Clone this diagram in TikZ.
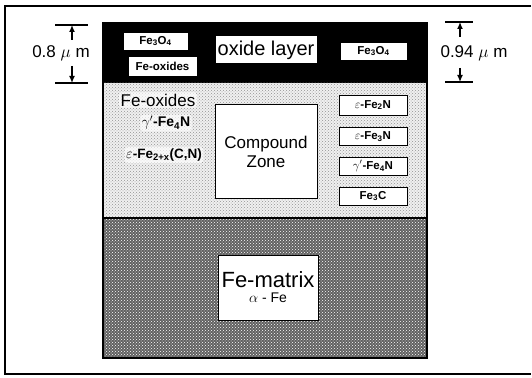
\documentclass[tikz,border=0pt]{standalone}
\usepackage{fontspec}
\setmainfont{Liberation Sans}
\usepackage{tikz}
\usetikzlibrary{patterns, arrows.meta, positioning}

\newcommand{\fsz}[1]{\fontsize{#1}{#1}\selectfont}

\begin{document}
\begin{tikzpicture}[x=1pt, y=-1pt, >={Latex[length=7pt, width=6pt]},
    phase/.style={draw=black, fill=white, line width=0.9pt, inner sep=0pt,
      font=\fsz{11.5}\bfseries},
    plain/.style={fill=white, fill opacity=0.65, text opacity=1,
      inner sep=1.5pt, rounded corners=3pt},
    bigbox/.style={draw=black, fill=white, line width=1pt, inner sep=0pt, align=center},
    dimline/.style={line width=1.3pt}]
    \useasboundingbox (0,0) rectangle (532,377);

    % 1. Khung ngoài
    \draw[line width=1.5pt] (531,6) -- (5,6) -- (5,374) -- (531,374);

    % 2. Các lớp: oxide, compound zone, Fe-matrix
    \fill[black] (103,23) rectangle (427,83);
    \fill[gray!12] (103,83) rectangle (427,218);
    \fill[pattern=crosshatch dots, pattern color=gray!85] (103,83) rectangle (427,218);
    \fill[black!62] (103,218) rectangle (427,358);
    \fill[pattern=crosshatch dots, pattern color=white] (103,218) rectangle (427,358);
    \draw[line width=1.5pt] (103,23) rectangle (427,358);
    \draw[line width=1.2pt] (103,218) -- (427,218);

    % 3. Lớp oxide
    \node[phase, minimum width=65, minimum height=18] (fetopL) at (155.5,41)
      {Fe\textsubscript{3}O\textsubscript{4}};
    \node[phase, minimum width=69, minimum height=20] (feoxT) at (162.5,66) {Fe-oxides};
    \node[bigbox, minimum width=102, minimum height=28, font=\fsz{20}] (oxlayer)
      at (266,50) {oxide layer};
    \node[phase, minimum width=67, minimum height=18] (fetopR) at (373.5,51)
      {Fe\textsubscript{3}O\textsubscript{4}};

    % 4. Compound zone
    \node[plain, font=\fsz{17}] (feoxC) at (158,100) {Fe-oxides};
    \node[plain, font=\fsz{14}\bfseries] (gammaC) at (166,123)
      {$\gamma'$-Fe\textsubscript{4}N};
    \node[plain, font=\fsz{13.5}\bfseries] (epsC) at (164,155)
      {$\varepsilon$-Fe\textsubscript{2+x}(C,N)};
    \node[bigbox, minimum width=102, minimum height=93, font=\fsz{17}] (czone)
      at (266,151.5) {Compound\\[2pt]Zone};
    \node[phase, minimum width=68, minimum height=20] (epsTwo) at (373,105)
      {$\varepsilon$-Fe\textsubscript{2}N};
    \node[phase, minimum width=68, minimum height=18] (epsThree) at (373,136.5)
      {$\varepsilon$-Fe\textsubscript{3}N};
    \node[phase, minimum width=68, minimum height=18] (gammaR) at (373,166)
      {$\gamma'$-Fe\textsubscript{4}N};
    \node[phase, minimum width=68, minimum height=18] (cementite) at (373,196)
      {Fe\textsubscript{3}C};

    % 5. Fe-matrix
    \node[bigbox, minimum width=100, minimum height=65] (fematrix) at (268,287.5)
      {{\fsz{22}Fe-matrix}\\[3pt]{\fsz{14}$\alpha$ - Fe}};

    % 6. Kích thước lớp oxide
    \node[font=\fsz{17}] (dimL) at (61,53) {0.8 $\mu$ m};
    \coordinate (topL) at (72,25);
    \coordinate (botL) at (72,83);
    \coordinate (stemTL) at (72,40);
    \coordinate (stemBL) at (72,66);
    \draw[dimline] (55,25) -- (88,25);
    \draw[dimline] (55,83) -- (88,83);
    \draw[->, dimline] (stemTL) -- (topL);
    \draw[->, dimline] (stemBL) -- (botL);

    \node[font=\fsz{17}] (dimR) at (474,53) {0.94 $\mu$ m};
    \coordinate (topR) at (460,22);
    \coordinate (botR) at (460,82);
    \coordinate (stemTR) at (460,37);
    \coordinate (stemBR) at (460,68);
    \draw[dimline] (445,22) -- (473,22);
    \draw[dimline] (445,82) -- (473,82);
    \draw[->, dimline] (stemTR) -- (topR);
    \draw[->, dimline] (stemBR) -- (botR);
\end{tikzpicture}
\end{document}
